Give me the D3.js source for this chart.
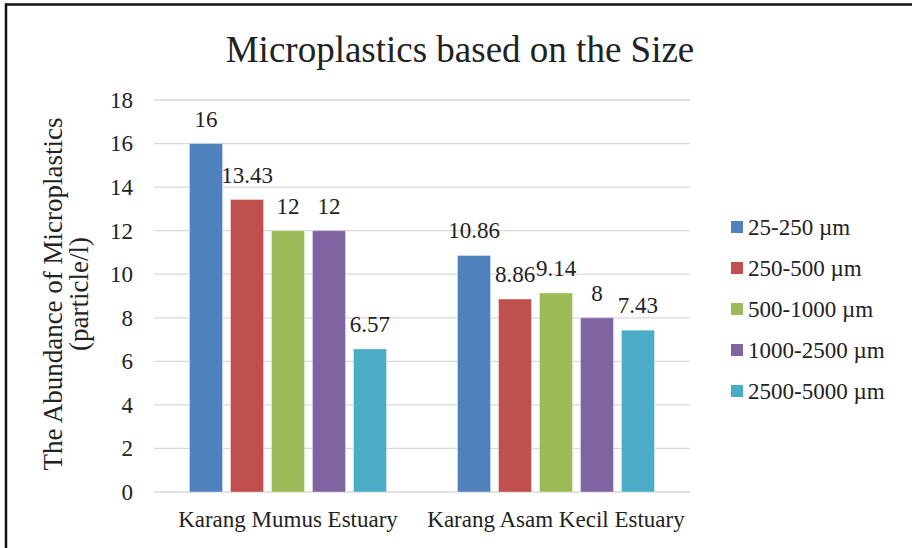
<!DOCTYPE html>
<html>
<head>
<meta charset="utf-8">
<script src="https://cdn.jsdelivr.net/npm/d3@7"></script>
<style>
  html, body { margin: 0; padding: 0; background: #fff; }
  svg { display: block; }
  text { font-family: "Liberation Serif", "Times New Roman", serif; fill: #222; }
</style>
</head>
<body>
<svg id="chart" width="912" height="548"></svg>
<script>
// Sampling sites and particle size classes
const sites = ["Karang Mumus Estuary", "Karang Asam Kecil Estuary"];
const sizeClasses = ["25-250 µm", "250-500 µm", "500-1000 µm", "1000-2500 µm", "2500-5000 µm"];
const colors = ["#4F81BD", "#C0504D", "#9BBB59", "#8064A2", "#4BACC6"];

// Abundance (particle/l) per size class, one array per site
const karangMumus = [16, 13.43, 12, 12, 6.57];
const karangAsamKecil = [10.86, 8.86, 9.14, 8, 7.43];
const siteValues = [karangMumus, karangAsamKecil];

const yTicks = [0, 2, 4, 6, 8, 10, 12, 14, 16, 18];

const svg = d3.select("#chart");
const W = 912, H = 548;
const plot = { left: 154, right: 690, top: 100, bottom: 492 };
const FONT = "Liberation Serif";

// Frame lines (top and left)
svg.append("line").attr("x1", 5).attr("x2", W).attr("y1", 4.5).attr("y2", 4.5)
  .attr("stroke", "#111").attr("stroke-width", 2.5);
svg.append("line").attr("x1", 6).attr("x2", 6).attr("y1", 3.5).attr("y2", H)
  .attr("stroke", "#111").attr("stroke-width", 2.5);

// Title
svg.append("text").attr("x", 460).attr("y", 62).attr("text-anchor", "middle")
  .style("font-size", "37px").text("Microplastics based on the Size");

const y = d3.scaleLinear().domain([0, 18]).range([plot.bottom, plot.top]);
const x0 = d3.scaleBand().domain(sites).range([plot.left, plot.right]).padding(0);
const cluster = x0.bandwidth() * 0.735;
const x1 = d3.scaleBand().domain(sizeClasses)
  .range([(x0.bandwidth() - cluster) / 2, (x0.bandwidth() + cluster) / 2])
  .paddingInner(0.195).paddingOuter(0);

// Gridlines
svg.append("g").selectAll("line").data(yTicks).join("line")
  .attr("x1", plot.left).attr("x2", plot.right)
  .attr("y1", d => y(d)).attr("y2", d => y(d))
  .attr("stroke", "#d9d9d9").attr("stroke-width", 1.3);

// Y axis labels
const yAxis = d3.axisLeft(y).tickValues(yTicks).tickSize(0).tickPadding(21);
const yg = svg.append("g").attr("transform", `translate(${plot.left},0)`).call(yAxis);
yg.select(".domain").remove();
yg.selectAll("text").style("font-size", "23px").style("font-family", FONT).attr("fill", "#222");

// X axis labels
const xAxis = d3.axisBottom(x0).tickSize(0).tickPadding(19);
const xg = svg.append("g").attr("transform", `translate(0,${plot.bottom})`).call(xAxis);
xg.select(".domain").remove();
xg.selectAll("text").style("font-size", "23px").style("font-family", FONT).attr("fill", "#222");

// Y axis title
const yTitle = svg.append("text").attr("transform", "translate(0,294) rotate(-90)")
  .attr("text-anchor", "middle").style("font-size", "27px");
yTitle.append("tspan").attr("x", 0).attr("y", 62).text("The Abundance of Microplastics");
yTitle.append("tspan").attr("x", 0).attr("y", 88).text("(particle/l)");

// Bars and value labels
const groups = svg.append("g").selectAll("g").data(sites).join("g")
  .attr("transform", d => `translate(${x0(d)},0)`);

groups.each(function(site, si) {
  const g = d3.select(this);
  const rows = sizeClasses.map((c, i) => ({ c, v: siteValues[si][i], color: colors[i] }));
  g.selectAll("rect").data(rows).join("rect")
    .attr("x", d => x1(d.c)).attr("width", x1.bandwidth())
    .attr("y", d => y(d.v)).attr("height", d => y(0) - y(d.v))
    .attr("fill", d => d.color).attr("stroke", "#fff").attr("stroke-opacity", 0.35).attr("stroke-width", 1);
  g.selectAll("text.val").data(rows).join("text").attr("class", "val")
    .attr("x", d => x1(d.c) + x1.bandwidth() / 2).attr("y", d => y(d.v) - 17)
    .attr("text-anchor", "middle").style("font-size", "23px")
    .text(d => d.v);
});

// Legend
const legend = svg.append("g").attr("transform", "translate(731,227)");
const li = legend.selectAll("g").data(sizeClasses).join("g")
  .attr("transform", (d, i) => `translate(0,${i * 41})`);
li.append("rect").attr("x", 0).attr("y", -6).attr("width", 12).attr("height", 12)
  .attr("fill", (d, i) => colors[i]);
li.append("text").attr("x", 17).attr("y", 8).style("font-size", "23px").text(d => d);
</script>
</body>
</html>
